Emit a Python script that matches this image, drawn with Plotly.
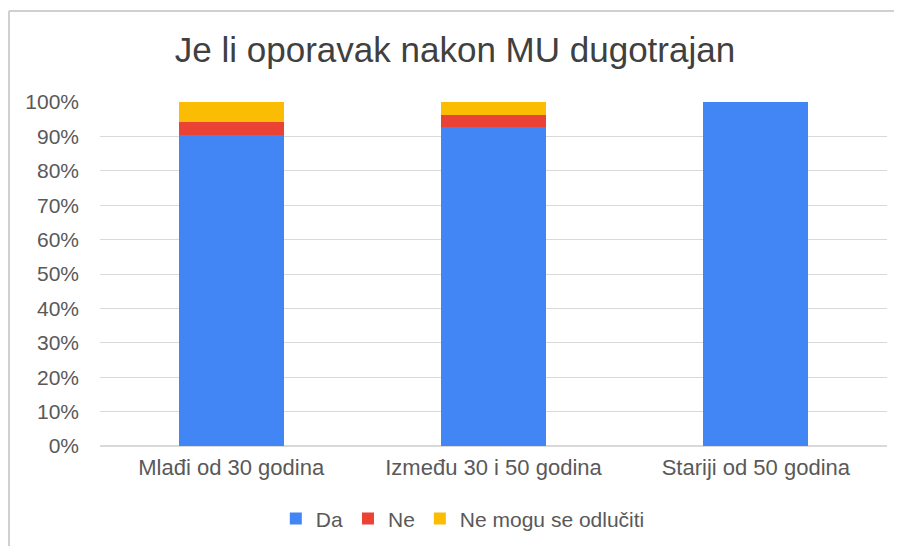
import plotly.graph_objects as go

categories = ["Mlađi od 30 godina", "Između 30 i 50 godina", "Stariji od 50 godina"]
da = [90.4, 92.6, 100.0]
ne = [3.9, 3.5, 0.0]
ne_mogu = [5.7, 3.9, 0.0]
tick_vals = [0, 10, 20, 30, 40, 50, 60, 70, 80, 90, 100]
tick_text = [f"{v}%" for v in tick_vals]

colors = {"Da": "#4285F4", "Ne": "#EA4335", "Ne mogu se odlučiti": "#FBBC04"}

fig = go.Figure()
for name, vals in [("Da", da), ("Ne", ne), ("Ne mogu se odlučiti", ne_mogu)]:
    fig.add_trace(go.Bar(x=categories, y=vals, name=name,
                         marker=dict(color=colors[name], line=dict(width=0)),
                         hoverinfo="x+y+name"))

FONT = "Liberation Sans, Arial, sans-serif"
fig.update_layout(
    barmode="stack",
    bargap=0.6,
    width=894, height=538,
    margin=dict(l=92, r=15, t=94, b=100, autoexpand=False),
    paper_bgcolor="white", plot_bgcolor="white",
    font=dict(family=FONT, color="#595959", size=21),
    title=dict(text="Je li oporavak nakon MU dugotrajan",
               x=0.5, xanchor="center", y=0.922, yanchor="middle",
               font=dict(family=FONT, size=35, color="#404040")),
    legend=dict(orientation="h", x=0.461, xanchor="center", y=-0.212, yanchor="middle",
                font=dict(size=21, color="#595959"), traceorder="normal",
                itemwidth=30, tracegroupgap=0),
    xaxis=dict(showgrid=False, showline=False, ticks="", ticklabelstandoff=6,
               automargin=False, tickfont=dict(size=22, color="#595959")),
    yaxis=dict(range=[0, 100], tickvals=tick_vals, ticktext=tick_text,
               showgrid=True, gridcolor="#d9d9d9", gridwidth=1,
               zeroline=True, zerolinecolor="#d9d9d9", showline=False,
               ticks="", ticklabelstandoff=20, automargin=False,
               tickfont=dict(size=21, color="#595959")),
    shapes=[
        dict(type="line", xref="paper", yref="paper", x0=-0.1156, x1=1.03, y0=1.2645, y1=1.2645,
             line=dict(color="#d0d0d0", width=2)),
        dict(type="line", xref="paper", yref="paper", x0=-0.1156, x1=-0.1156, y0=1.2645, y1=-0.30,
             line=dict(color="#d0d0d0", width=2)),
    ],
)

fig.write_html("out.html")
